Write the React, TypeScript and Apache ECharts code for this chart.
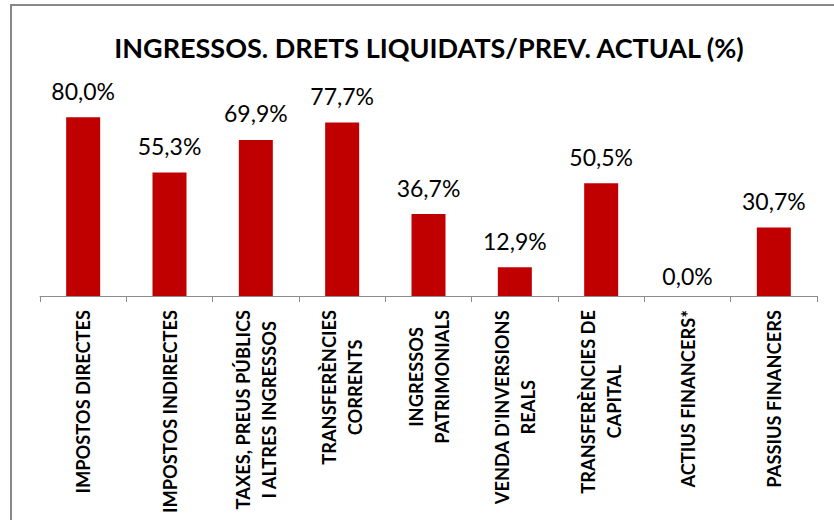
import React, { useEffect, useRef } from "react";
import * as echarts from "echarts";

const titleText = "INGRESSOS. DRETS LIQUIDATS/PREV. ACTUAL (%)";
const categories = [
  "IMPOSTOS DIRECTES",
  "IMPOSTOS INDIRECTES",
  "TAXES, PREUS PÚBLICS\nI ALTRES INGRESSOS",
  "TRANSFERÈNCIES\nCORRENTS",
  "INGRESSOS\nPATRIMONIALS",
  "VENDA D'INVERSIONS\nREALS",
  "TRANSFERÈNCIES DE\nCAPITAL",
  "ACTIUS FINANCERS*",
  "PASSIUS FINANCERS",
];
const values = [80.0, 55.3, 69.9, 77.7, 36.7, 12.9, 50.5, 0.0, 30.7];
const yMin = 0;
const yMax = 90;

const FONT = "Lato";

export default function App() {
  const ref = useRef<HTMLDivElement>(null);
  useEffect(() => {
    if (!ref.current) return;
    const chart = echarts.init(ref.current, null, { renderer: "svg" });
    chart.setOption({
      animation: false,
      backgroundColor: "#ffffff",
      title: {
        text: titleText,
        left: 424,
        top: 29,
        textAlign: "center",
        textStyle: {
          fontFamily: FONT,
          fontWeight: "bold",
          fontSize: 27,
          color: "#000000",
        },
      },
      graphic: [
        {
          type: "rect",
          shape: { x: 11, y: 5, width: 900, height: 600 },
          style: { fill: "none", stroke: "#878787", lineWidth: 2 },
          silent: true,
        },
      ],
      grid: {
        left: 40,
        right: 17,
        top: 95,
        bottom: 224,
        containLabel: false,
        outerBoundsMode: "none",
      },
      xAxis: {
        type: "category",
        data: categories,
        axisLine: { show: true, lineStyle: { color: "#8c8c8c", width: 1 } },
        axisTick: { show: true, length: 6, lineStyle: { color: "#8c8c8c" } },
        axisLabel: {
          interval: 0,
          rotate: 90,
          margin: 14,
          formatter: (v: string) =>
            v
              .split("\n")
              .map((l) => `{c|${l}}`)
              .join("\n"),
          rich: {
            c: {
              align: "center",
              fontFamily: FONT,
              fontWeight: "bold",
              fontSize: 18.3,
              lineHeight: 26,
              color: "#000000",
            },
          },
        },
      },
      yAxis: {
        type: "value",
        min: yMin,
        max: yMax,
        show: false,
        splitLine: { show: false },
      },
      series: [
        {
          type: "bar",
          data: values.map((v) =>
            v === 0 ? { value: v, label: { distance: 9 } } : v
          ),
          barWidth: 34,
          itemStyle: { color: "#C00000" },
          label: {
            show: true,
            position: "top",
            distance: 15,
            fontFamily: FONT,
            fontSize: 23,
            color: "#000000",
            formatter: (p: any) => p.value.toFixed(1).replace(".", ",") + "%",
          },
        },
      ],
    });
    return () => chart.dispose();
  }, []);
  return (
    <div
      ref={ref}
      style={{ position: "fixed", left: 0, top: 0, width: 834, height: 520 }}
    />
  );
}
